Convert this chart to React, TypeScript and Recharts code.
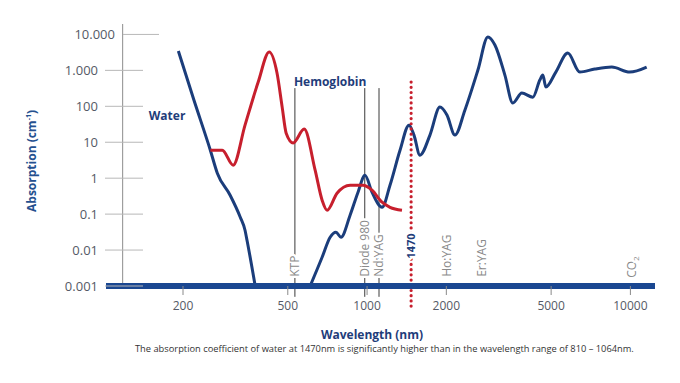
import { LineChart, Line, XAxis, YAxis, ReferenceLine, ReferenceDot } from "recharts";

const FONT = "'Open Sans', sans-serif";

// axis ticks
const xTicks = [200, 500, 1000, 2000, 5000, 10000];
const yTicks = [0.001, 0.01, 0.1, 1, 10, 100, 1000, 10000];
const yTickLabels = ["0.001", "0.01", "0.1", "1", "10", "100", "1.000", "10.000"];

// water absorption (null = gap where curve drops under the axis)
const waterWl = [192, 220, 254, 270, 302, 330, 344, 350, 376, 500, 608, 675, 724, 762, 796, 862, 924, 982, 1044, 1140, 1222, 1334, 1443, 1507, 1588, 1733, 1891, 2011, 2156, 2352, 2636, 2876, 3058, 3337, 3578, 3870, 4261, 4530, 4651, 4773, 5210, 5785, 6425, 7323, 8497, 9942, 11530];
const waterAbs = [3450, 149, 6.0, 1.38, 0.336, 0.082, 0.0356, 0.0188, 0.001, null, 0.001, 0.0063, 0.0228, 0.0313, 0.0228, 0.093, 0.407, 1.21, 0.407, 0.155, 0.638, 6.0, 29.9, 15.8, 4.37, 15.8, 95, 56.9, 15.8, 78, 1020, 8470, 5070, 740, 123, 233, 180, 537, 740, 343, 897, 3035, 897, 1087, 1236, 897, 1236];

// hemoglobin absorption
const hbWl = [254, 282, 310, 344, 386, 425, 455, 476, 493, 524, 577, 635, 675, 705, 769, 862, 965, 1044, 1140, 1222, 1357];
const hbAbs = [6.0, 6.0, 2.3, 29.9, 472, 3240, 841, 95, 17.9, 9.6, 23.2, 1.67, 0.244, 0.1285, 0.382, 0.638, 0.638, 0.463, 0.214, 0.155, 0.1285];

// laser annotations
const laserNames = ["KTP", "Diode 980", "Nd:YAG", "Ho:YAG", "Er:YAG", "CO2"];
const laserWl = [532, 980, 1110, 2010, 2730, 10100];
const laserHasLine = [true, true, true, false, false, false];

const highlightWl = 1470;

const waterData = waterWl.map((wl, i) => ({ wl, ab: waterAbs[i] }));
const hbData = hbWl.map((wl, i) => ({ wl, ab: hbAbs[i] }));

const YTick = (props: any) => {
  const { x, y, index } = props;
  const top = index === yTicks.length - 1;
  return (
    <g>
      <line
        x1={top ? x + 25 : x + 7}
        x2={top ? x + 61 : x + 45}
        y1={y}
        y2={y}
        stroke="#b8b8b8"
        strokeWidth={1}
      />
      <text x={top ? x + 17 : x} y={y} dy="0.36em" textAnchor="end" fill="#555a66" fontSize={13} fontFamily={FONT}>
        {yTickLabels[index]}
      </text>
    </g>
  );
};

const rotatedLabel = (text: string, lift: number, color: string, bold: boolean, size: number) => (props: any) => {
  const vb = props.viewBox || {};
  const x = vb.x ?? 0;
  const bottom = (vb.y ?? 0) + (vb.height ?? 0) - lift;
  const sub = text === "CO2";
  return (
    <text
      transform={`translate(${x},${bottom}) rotate(-90)`}
      dy="0.36em"
      fill={color}
      fontSize={size}
      fontWeight={bold ? 700 : 400}
      fontFamily={FONT}
      stroke="#fff"
      strokeWidth={5}
      strokeLinejoin="round"
      paintOrder="stroke"
    >
      {sub ? (
        <>
          CO<tspan fontSize={8} dy={3}>2</tspan>
        </>
      ) : (
        text
      )}
    </text>
  );
};

export default function App() {
  return (
    <div style={{ position: "absolute", left: 0, top: 0, width: 680, height: 383, background: "#fff", fontFamily: FONT }}>
      <LineChart width={680} height={383} margin={{ top: 24, right: 25, bottom: 67, left: 0 }}>
        <XAxis
          dataKey="wl"
          type="number"
          scale="log"
          domain={[102, 12400]}
          allowDataOverflow
          ticks={xTicks}
          axisLine={{ stroke: "#1a4791", strokeWidth: 6 }}
          tickLine={{ stroke: "#8a8a8a" }}
          tickSize={9}
          tickMargin={6}
          tick={{ fill: "#555a66", fontSize: 12, fontFamily: FONT }}
        />
        <YAxis
          type="number"
          scale="log"
          domain={[0.001, 19500]}
          allowDataOverflow
          ticks={yTicks}
          width={106}
          axisLine={false}
          tickLine={false}
          tickSize={0}
          tickMargin={8}
          tick={<YTick />}
          label={(p: any) => {
            const vb = p.viewBox || { x: 0, y: 24, height: 262 };
            return (
              <text
                transform={`translate(${vb.x + 36},${vb.y + vb.height / 2 + 6}) rotate(-90)`}
                textAnchor="middle"
                fill="#24508f"
                fontSize={12}
                fontWeight={700}
                fontFamily={FONT}
              >
                Absorption (cm<tspan fontSize={7} dy={-5}>-1</tspan>
                <tspan dy={5}>)</tspan>
              </text>
            );
          }}
        />

        <ReferenceLine x={118} stroke="#8c8c8c" strokeWidth={1} />

        {laserNames.map((name, i) => (
          <ReferenceLine
            key={name}
            segment={[
              { x: laserWl[i], y: 321 },
              { x: laserWl[i], y: 0.0005 },
            ]}
            ifOverflow="visible"
            stroke={laserHasLine[i] ? "#3a3a3a" : "none"}
            strokeWidth={1}
            label={rotatedLabel(name, name === "CO2" ? 19 : 20, "#8a8a8a", false, 12)}
          />
        ))}

        <Line
          data={waterData}
          dataKey="ab"
          type="monotone"
          stroke="#1b3d7b"
          strokeWidth={3}
          dot={false}
          isAnimationActive={false}
        />
        <Line
          data={hbData}
          dataKey="ab"
          type="monotone"
          stroke="#c71f2d"
          strokeWidth={3}
          dot={false}
          isAnimationActive={false}
        />

        <ReferenceLine
          segment={[
            { x: highlightWl, y: 472 },
            { x: highlightWl, y: 0.00022 },
          ]}
          ifOverflow="visible"
          stroke="#c71f2d"
          strokeWidth={3.2}
          strokeDasharray="0.01 5.2"
          strokeLinecap="round"
          label={rotatedLabel("1470", 51, "#1f3d7a", true, 11)}
        />

        <ReferenceDot
          x={174}
          y={53}
          r={0}
          ifOverflow="visible"
          label={{ value: "Water", fill: "#1f3d7a", fontSize: 12, fontWeight: 700, fontFamily: FONT }}
        />
        <ReferenceDot
          x={724}
          y={472}
          r={0}
          ifOverflow="visible"
          label={{ value: "Hemoglobin", fill: "#1f3d7a", fontSize: 12, fontWeight: 700, fontFamily: FONT }}
        />
      </LineChart>

      <div
        style={{
          position: "absolute",
          left: 272,
          width: 200,
          top: 326,
          textAlign: "center",
          fontSize: 12,
          fontWeight: 700,
          color: "#1f3d7a",
        }}
      >
        Wavelength (nm)
      </div>
      <div
        style={{
          position: "absolute",
          left: 135,
          top: 342,
          fontSize: 9.3,
          color: "#333",
          whiteSpace: "nowrap",
        }}
      >
        The absorption coefficient of water at 1470nm is significantly higher than in the wavelength range of 810 – 1064nm.
      </div>
    </div>
  );
}
